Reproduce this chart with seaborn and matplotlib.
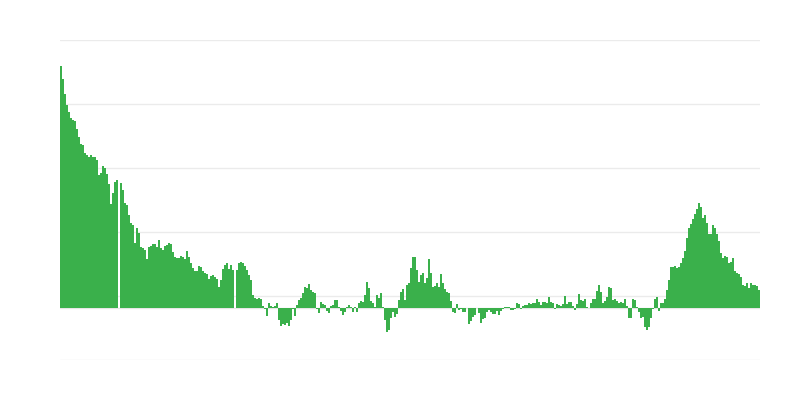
import numpy as np
import pandas as pd
import matplotlib
matplotlib.use("Agg")
import matplotlib.pyplot as plt
import seaborn as sns

# values (zero baseline, one bar per period)
seg1 = [242, 229, 214, 203, 196, 190, 188, 187, 179, 171,
        164, 163, 155, 153, 151, 153, 151, 151, 148, 133,
        135, 142, 140, 134, 124, 104, 115, 126, 128, 0,
        125, 118, 105, 103, 93, 85, 83, 65, 80, 75,
        61, 60, 58, 49, 61, 62, 64, 64, 61, 68]
seg2 = [60, 58, 62, 63, 65, 64, 56, 51, 50, 50,
        52, 51, 49, 57, 51, 45, 40, 37, 37, 42,
        41, 37, 35, 34, 29, 32, 33, 31, 29, 21,
        28, 39, 43, 45, 39, 43, 38, 0, 38, 45,
        46, 45, 42, 38, 33, 28, 13, 10, 9, 10]
seg3 = [9, 2, -1, -8, 5, 2, 1, 2, 5, -12,
        -18, -16, -17, -15, -18, -12, -1, -8, 3, 8,
        10, 15, 21, 20, 24, 18, 16, 15, -1, -5,
        6, 4, 3, -3, -5, 2, 3, 8, 8, 1,
        -3, -7, -4, 1, 3, 1, -4, 1, -4, 5]
seg4 = [7, 6, 13, 26, 20, 7, 5, 1, 13, 10,
        15, 1, -12, -24, -22, -10, -4, -9, -6, 8,
        16, 19, 8, 23, 25, 40, 51, 51, 38, 26,
        33, 35, 25, 30, 49, 35, 21, 22, 25, 21,
        34, 25, 19, 16, 15, 7, -4, -5, 4, -2]
seg5 = [-1, -4, -4, 0, -16, -13, -9, -7, 0, -5,
        -15, -11, -10, -4, -2, -4, -6, -6, -3, -7,
        -3, -1, 1, 1, 1, -2, -2, -1, 5, 4,
        -1, 2, 3, 3, 5, 4, 5, 5, 9, 6,
        3, 6, 6, 5, 11, 6, 5, -1, 4, 3]
seg6 = [2, 4, 12, 4, 6, 6, 2, -2, 4, 14,
        8, 7, 9, 1, 0, 5, 9, 9, 17, 23,
        16, 5, 7, 11, 21, 20, 8, 9, 7, 5,
        6, 5, 9, 2, -10, -10, 9, 8, 1, -4,
        -10, -9, -19, -22, -19, -10, -1, 9, 11, -3]
seg7 = [5, 5, 9, 18, 28, 41, 41, 42, 40, 41,
        45, 50, 57, 70, 80, 84, 89, 94, 99, 105,
        101, 90, 93, 85, 74, 74, 83, 80, 74, 67,
        55, 50, 52, 51, 45, 46, 50, 37, 35, 34,
        31, 23, 22, 25, 20, 25, 23, 23, 22, 18]

values = seg1 + seg2 + seg3 + seg4 + seg5 + seg6 + seg7
periods = list(range(len(values)))
grid_values = [-52, 12, 76, 140, 204, 268]

df = pd.DataFrame({"period": periods, "value": values})

sns.set_style("white")
fig = plt.figure(figsize=(8, 4), dpi=100)
ax = fig.add_axes([60 / 800, 40 / 400, 700 / 800, 320 / 400])

for g in grid_values:
    ax.axhline(g, color="#ebebeb", linewidth=1, zorder=0)
ax.axhline(0, color="#e6e6e6", linewidth=1, zorder=0)

sns.barplot(data=df, x="period", y="value", order=periods, color="#3AB04B",
            saturation=1, width=1, linewidth=0, ax=ax, zorder=2)
for p in ax.patches:
    p.set_antialiased(False)

ax.set_xlim(-0.5, len(values) - 0.5)
ax.set_ylim(grid_values[0] - 0.5, grid_values[-1] + 0.5)
ax.set_xticks([])
ax.set_yticks([])
ax.set_xlabel("")
ax.set_ylabel("")
for s in ax.spines.values():
    s.set_visible(False)

fig.savefig("out.png", dpi=100)
